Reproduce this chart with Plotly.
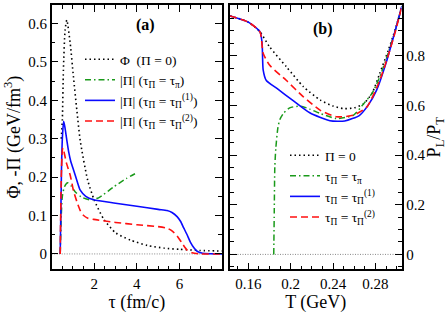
import plotly.graph_objects as go

# ---------------- data: panel (a) ----------------
tau_phi = [0.45, 0.5, 0.55, 0.63, 0.71, 0.87, 1.02, 1.18, 1.34, 1.69, 2.0, 2.45, 3.0, 3.7, 4.5, 5.3, 6.0, 7.0, 8.0]
phi_0 = [0.30, 0.35, 0.479, 0.583, 0.609, 0.548, 0.462, 0.375, 0.295, 0.192, 0.140, 0.090, 0.055, 0.036, 0.022, 0.015, 0.012, 0.009, 0.0075]

tau_pi = [0.4, 0.45, 0.5, 0.6, 0.75, 0.9, 1.1, 1.4, 1.8, 2.2, 2.9, 3.5, 4.05]
pi_taupi = [0.0, 0.10, 0.15, 0.175, 0.185, 0.178, 0.162, 0.148, 0.141, 0.146, 0.174, 0.196, 0.213]

tau_1 = [0.4, 0.46, 0.5, 0.56, 0.62, 0.7, 0.8, 0.9, 1.03, 1.19, 1.34, 1.6, 1.97, 3.0, 4.0, 5.0, 5.42, 5.65,
         5.89, 6.05, 6.2, 6.36, 6.52, 6.68, 6.83, 7.0, 7.2, 8.0]
pi_1 = [0.0, 0.22, 0.30, 0.345, 0.33, 0.30, 0.265, 0.24, 0.218, 0.19, 0.166, 0.150, 0.141, 0.132, 0.124, 0.116,
        0.113, 0.108, 0.097, 0.085, 0.068, 0.050, 0.030, 0.016, 0.007, 0.003, 0.001, 0.0]

tau_2 = [0.4, 0.45, 0.5, 0.53, 0.6, 0.7, 0.87, 1.03, 1.19, 1.35, 1.5, 1.7, 1.97, 3.0, 4.0, 5.0, 5.42, 5.65,
         5.89, 6.1, 6.36, 6.6, 7.0, 8.0]
pi_2 = [0.0, 0.20, 0.27, 0.276, 0.26, 0.235, 0.205, 0.163, 0.135, 0.112, 0.100, 0.093, 0.090, 0.082, 0.076,
        0.071, 0.067, 0.060, 0.047, 0.030, 0.010, 0.003, 0.0, 0.0]

# ---------------- data: panel (b) ----------------
T_0 = [0.1427, 0.160, 0.171, 0.180, 0.196, 0.212, 0.228, 0.240, 0.250, 0.260, 0.269, 0.277, 0.284, 0.292, 0.299, 0.305]
r_0 = [0.960, 0.935, 0.896, 0.836, 0.755, 0.675, 0.621, 0.597, 0.587, 0.590, 0.607, 0.650, 0.728, 0.820, 0.910, 1.0]

T_pi = [0.184, 0.1845, 0.185, 0.186, 0.188, 0.190, 0.193, 0.199, 0.209, 0.218, 0.228, 0.243, 0.259, 0.269, 0.277,
        0.284, 0.292, 0.299, 0.305]
r_pi = [0.0, 0.18, 0.352, 0.43, 0.513, 0.545, 0.567, 0.590, 0.597, 0.585, 0.567, 0.547, 0.560, 0.607, 0.650,
        0.714, 0.810, 0.905, 1.0]

T_1 = [0.1427, 0.160, 0.171, 0.173, 0.174, 0.177, 0.187, 0.202, 0.218, 0.237, 0.251, 0.265, 0.273, 0.281, 0.290,
       0.298, 0.305]
r_1 = [0.960, 0.935, 0.896, 0.850, 0.743, 0.700, 0.668, 0.620, 0.570, 0.538, 0.537, 0.560, 0.600, 0.660, 0.770,
       0.890, 1.0]

T_2 = [0.1427, 0.160, 0.171, 0.174, 0.180, 0.196, 0.212, 0.228, 0.243, 0.259, 0.272, 0.284, 0.292, 0.299, 0.305]
r_2 = [0.960, 0.935, 0.896, 0.810, 0.762, 0.700, 0.634, 0.580, 0.554, 0.560, 0.594, 0.700, 0.800, 0.900, 1.0]

# ---------------- labels ----------------
legend_a = ["Φ  (Π = 0)", "|Π| (τ<sub>Π</sub> = τ<sub>π</sub>)",
            "|Π| (τ<sub>Π</sub> = τ<sub>Π</sub><sup>(1)</sup>)", "|Π| (τ<sub>Π</sub> = τ<sub>Π</sub><sup>(2)</sup>)"]
legend_b = ["Π = 0", "τ<sub>Π</sub> = τ<sub>π</sub>",
            "τ<sub>Π</sub> = τ<sub>Π</sub><sup>(1)</sup>", "τ<sub>Π</sub> = τ<sub>Π</sub><sup>(2)</sup>"]
xa_ticks = [2, 4, 6]
ya_ticks = [0, 0.1, 0.2, 0.3, 0.4, 0.5, 0.6]
xb_ticks = [0.16, 0.2, 0.24, 0.28]
yb_ticks = [0, 0.2, 0.4, 0.6, 0.8, 1]

FONT = "Liberation Serif, Times New Roman, serif"
BLACK_DOT = dict(color="black", width=1.6, dash="1.5px,3px")
GREEN = dict(color="#1a9a1a", width=1.5, dash="6px,3px,1.5px,3px")
BLUE = dict(color="#0a0aff", width=1.6)
RED = dict(color="#ff1010", width=1.6, dash="7px,4px")

fig = go.Figure()
for x, y, name, ln in [(tau_phi, phi_0, legend_a[0], BLACK_DOT), (tau_pi, pi_taupi, legend_a[1], GREEN),
                       (tau_1, pi_1, legend_a[2], BLUE), (tau_2, pi_2, legend_a[3], RED)]:
    fig.add_trace(go.Scatter(x=x, y=y, mode="lines", name=name, line=dict(ln, shape="spline", smoothing=0.6),
                             xaxis="x", yaxis="y", legend="legend"))
for x, y, name, ln in [(T_0, r_0, legend_b[0], BLACK_DOT), (T_pi, r_pi, legend_b[1], GREEN),
                       (T_1, r_1, legend_b[2], BLUE), (T_2, r_2, legend_b[3], RED)]:
    fig.add_trace(go.Scatter(x=x, y=y, mode="lines", name=name, line=dict(ln, shape="spline", smoothing=0.6),
                             xaxis="x2", yaxis="y2", legend="legend2"))

W, H = 447, 313
ydom = [(H - 269.3) / H, (H - 5) / H]
common = dict(showline=True, linecolor="black", linewidth=1.5, mirror="allticks", ticks="inside",
              ticklen=7, tickwidth=1.3, tickcolor="black", showgrid=False, zeroline=False,
              tickfont=dict(family=FONT, size=15, color="black"),
              minor=dict(ticks="inside", ticklen=4, tickwidth=1.2, tickcolor="black", showgrid=False))
TITLE_FONT = dict(family=FONT, size=18, color="black")

fig.update_layout(
    width=W, height=H, margin=dict(l=0, r=0, t=0, b=0),
    paper_bgcolor="white", plot_bgcolor="white",
    font=dict(family=FONT, size=14, color="black"),
    xaxis=dict(common, domain=[51.7 / W, 222 / W], range=[0, 8], tickvals=xa_ticks,
               minor=dict(common["minor"], dtick=0.5),
               title=dict(text="τ (fm/c)", font=TITLE_FONT, standoff=2), anchor="y"),
    yaxis=dict(common, domain=ydom, range=[-0.04, 0.648], tickvals=ya_ticks, ticktext=["0", "0.1", "0.2", "0.3", "0.4", "0.5", "0.6"],
               minor=dict(common["minor"], dtick=0.05),
               title=dict(text="Φ, -Π (GeV/fm<sup>3</sup>)", font=TITLE_FONT, standoff=3), anchor="x"),
    xaxis2=dict(common, domain=[230 / W, 401.5 / W], range=[0.1427, 0.3046], tickvals=xb_ticks,
                ticktext=["0.16", "0.2", "0.24", "0.28"],
                minor=dict(common["minor"], dtick=0.01),
                title=dict(text="T (GeV)", font=TITLE_FONT, standoff=2), anchor="y2"),
    yaxis2=dict(common, domain=ydom, range=[-0.06, 1.004], tickvals=yb_ticks, side="right",
                ticktext=["0", "0.2", "0.4", "0.6", "0.8", "1"],
                minor=dict(common["minor"], dtick=0.05),
                title=dict(text="P<sub>L</sub>/P<sub>T</sub>", font=TITLE_FONT, standoff=2), anchor="x2"),
    legend=dict(x=80 / W, y=(H - 44) / H, xanchor="left", yanchor="top", bgcolor="rgba(0,0,0,0)",
                font=dict(family=FONT, size=13.5), itemwidth=30, tracegroupgap=0),
    legend2=dict(x=285 / W, y=(H - 140) / H, xanchor="left", yanchor="top", bgcolor="rgba(0,0,0,0)",
                 font=dict(family=FONT, size=13.5), itemwidth=30, tracegroupgap=0),
    showlegend=True,
)

# thin zero reference lines
for xr, yr in [("x domain", "y"), ("x2 domain", "y2")]:
    fig.add_shape(type="line", xref=xr, yref=yr, x0=0, x1=1, y0=0, y1=0,
                  line=dict(color="#888888", width=1, dash="1px,1.5px"), layer="below")

fig.add_annotation(text="<b>(a)</b>", xref="x domain", yref="y domain", x=0.55, y=0.925, showarrow=False,
                   xanchor="center", yanchor="middle", font=dict(family=FONT, size=16))
fig.add_annotation(text="<b>(b)</b>", xref="x2 domain", yref="y2 domain", x=0.54, y=0.91, showarrow=False,
                   xanchor="center", yanchor="middle", font=dict(family=FONT, size=16))

fig.write_html("out.html", config={"displayModeBar": False},
               post_script="document.body.style.margin='0';document.body.style.overflow='hidden';")
